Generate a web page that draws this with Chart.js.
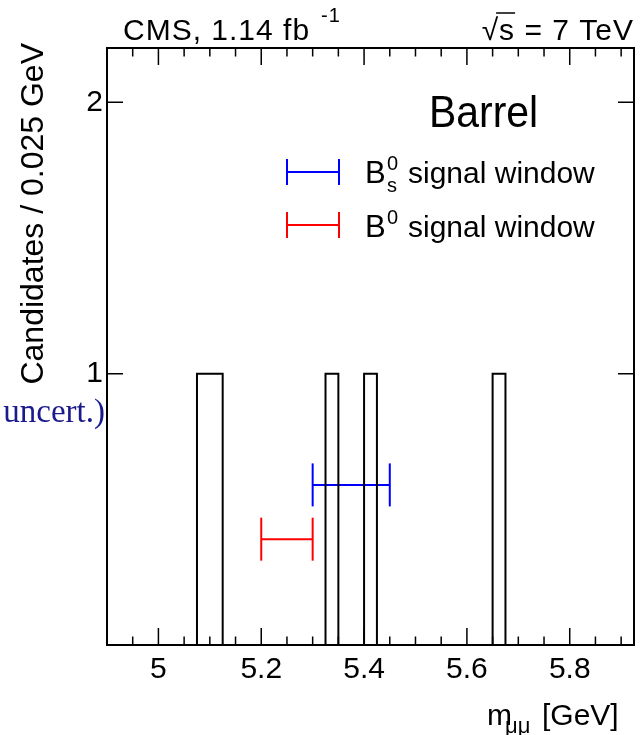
<!DOCTYPE html>
<html>
<head>
<meta charset="utf-8">
<script src="https://cdn.jsdelivr.net/npm/chart.js@4.4.1/dist/chart.umd.min.js"></script>
<style>
  body { margin: 0; background: #fff; }
  canvas { display: block; }
</style>
</head>
<body>
<canvas id="mass" width="642" height="735"></canvas>
<script>
// dimuon mass histogram, barrel, bins of 0.025 GeV
var binWidth = 0.025;
var binLowEdges = [5.075, 5.100, 5.325, 5.400, 5.650];
var binCounts = [1, 1, 1, 1, 1];

var xRange = [4.9, 5.925];
var yRange = [0, 2.2];
var xTickLabels = [5, 5.2, 5.4, 5.6, 5.8];
var yTickLabels = [1, 2];

var bsWindow = [5.30, 5.45];
var bsLevel = 0.59;
var b0Window = [5.20, 5.30];
var b0Level = 0.39;

var FONT = '"Liberation Sans", Arial, sans-serif';

// outline of the histogram as a stepped line
var histPoints = [{x: xRange[0], y: 0}];
binLowEdges.forEach(function (lo, i) {
    histPoints.push({x: lo, y: binCounts[i]});
    var hi = +(lo + binWidth).toFixed(3);
    if (binLowEdges[i + 1] !== hi) histPoints.push({x: hi, y: 0});
});
histPoints.push({x: xRange[1], y: 0});

var windowSet = function (range, level, color) {
    return {
        data: [{x: range[0], y: level}, {x: range[1], y: level}],
        showLine: true,
        borderColor: color,
        borderWidth: 2,
        pointStyle: 'line',
        rotation: 90,
        pointRadius: 21.5,
        pointBorderColor: color,
        pointBorderWidth: 2
    };
};

var decorations = {
    id: 'decorations',
    afterDraw: function (chart) {
        var ctx = chart.ctx;
        var a = chart.chartArea;
        var x = chart.scales.x, y = chart.scales.y;
        ctx.save();

        // stray caption from neighbouring figure
        ctx.font = '33px "Liberation Serif", "Times New Roman", serif';
        ctx.fillStyle = '#1a1a8e';
        ctx.textAlign = 'right';
        ctx.textBaseline = 'alphabetic';
        ctx.fillText('uncert.)', 105, 422);

        // frame
        ctx.strokeStyle = '#000';
        ctx.lineWidth = 2;
        ctx.strokeRect(a.left, a.top, a.right - a.left, a.bottom - a.top);

        // inward ticks
        ctx.lineWidth = 1.5;
        ctx.beginPath();
        for (var i = 0; ; i++) {
            var v = +(xRange[0] + 0.05 * i).toFixed(3);
            if (v > xRange[1]) break;
            var px = x.getPixelForValue(v);
            var major = Math.abs(v * 5 - Math.round(v * 5)) < 1e-6;
            var len = major ? 17 : 8.5;
            ctx.moveTo(px, a.bottom); ctx.lineTo(px, a.bottom - len);
            ctx.moveTo(px, a.top); ctx.lineTo(px, a.top + len);
        }
        yTickLabels.forEach(function (v) {
            var py = y.getPixelForValue(v);
            ctx.moveTo(a.left, py); ctx.lineTo(a.left + 16, py);
            ctx.moveTo(a.right, py); ctx.lineTo(a.right - 16, py);
        });
        ctx.stroke();

        ctx.fillStyle = '#000';
        ctx.textAlign = 'left';
        ctx.textBaseline = 'alphabetic';

        // header
        ctx.letterSpacing = '1px';
        ctx.font = '30px ' + FONT;
        ctx.fillText('CMS, 1.14 fb', 123, 40);
        ctx.font = '20px ' + FONT;
        ctx.fillText('-1', 321, 22);

        ctx.font = '30px ' + FONT;
        var energy = '\u221As = 7 TeV';
        var ex = 634 - ctx.measureText(energy).width;
        ctx.fillText(energy, ex, 40);
        var sx = ex + ctx.measureText('\u221A').width;
        var sw = ctx.measureText('s').width;
        ctx.lineWidth = 1.5;
        ctx.beginPath();
        ctx.moveTo(sx - 3, 13); ctx.lineTo(sx + sw, 13);
        ctx.stroke();
        ctx.letterSpacing = '0px';

        // region label, slightly condensed like the original
        ctx.save();
        ctx.translate(429, 127);
        ctx.scale(0.93, 1);
        ctx.font = '44px ' + FONT;
        ctx.fillText('Barrel', 0, 0);
        ctx.restore();

        // legend
        var legendRows = [
            {y: 172, color: '#0000ff', sub: 's', base: 183},
            {y: 225, color: '#ff0000', sub: '', base: 237}
        ];
        legendRows.forEach(function (r) {
            ctx.strokeStyle = r.color;
            ctx.lineWidth = 2;
            ctx.beginPath();
            ctx.moveTo(287, r.y); ctx.lineTo(339, r.y);
            ctx.moveTo(287, r.y - 13); ctx.lineTo(287, r.y + 13);
            ctx.moveTo(339, r.y - 13); ctx.lineTo(339, r.y + 13);
            ctx.stroke();
            ctx.fillStyle = '#000';
            ctx.font = '31px ' + FONT;
            ctx.fillText('B', 365, r.base);
            ctx.font = '20px ' + FONT;
            ctx.fillText('0', 387, r.base - 13);
            if (r.sub) ctx.fillText(r.sub, 387, r.base + 9);
            ctx.font = '30px ' + FONT;
            ctx.fillText('signal window', 408, r.base);
        });

        // x title
        ctx.font = '30px ' + FONT;
        ctx.fillText('m', 487, 725);
        ctx.font = '22px ' + FONT;
        ctx.fillText('\u03BC\u03BC', 505, 733);
        ctx.font = '30px ' + FONT;
        ctx.fillText('[GeV]', 542, 725);

        // y title
        ctx.save();
        ctx.translate(43, 43);
        ctx.rotate(-Math.PI / 2);
        ctx.textAlign = 'right';
        ctx.font = '32px ' + FONT;
        ctx.fillText('Candidates / 0.025 GeV', 0, 0);
        ctx.restore();

        ctx.restore();
    }
};

new Chart(document.getElementById('mass'), {
    type: 'scatter',
    data: {
        datasets: [
            {
                data: histPoints,
                showLine: true,
                stepped: true,
                borderColor: '#000',
                borderWidth: 2,
                pointRadius: 0
            },
            windowSet(bsWindow, bsLevel, '#0000ff'),
            windowSet(b0Window, b0Level, '#ff0000')
        ]
    },
    options: {
        responsive: false,
        animation: false,
        layout: { autoPadding: false, padding: { top: 48, right: 8, left: 0, bottom: 0 } },
        plugins: { legend: { display: false }, tooltip: { enabled: false } },
        scales: {
            x: {
                type: 'linear',
                min: xRange[0],
                max: xRange[1],
                grid: { display: false, drawTicks: false },
                border: { display: false },
                ticks: {
                    font: { family: FONT, size: 30 },
                    color: '#000',
                    padding: 7,
                    maxRotation: 0,
                    autoSkip: false,
                    callback: function (v) { return String(v); }
                },
                afterBuildTicks: function (s) {
                    s.ticks = xTickLabels.map(function (v) { return {value: v}; });
                },
                afterFit: function (s) {
                    s.height = 90;
                    s.paddingLeft = 0;
                    s.paddingRight = 0;
                }
            },
            y: {
                min: yRange[0],
                max: yRange[1],
                grid: { display: false, drawTicks: false },
                border: { display: false },
                ticks: {
                    font: { family: FONT, size: 30 },
                    color: '#000',
                    padding: 4,
                    callback: function (v) { return String(v); }
                },
                afterBuildTicks: function (s) {
                    s.ticks = yTickLabels.map(function (v) { return {value: v}; });
                },
                afterFit: function (s) {
                    s.width = 107;
                    s.paddingTop = 0;
                    s.paddingBottom = 0;
                }
            }
        }
    },
    plugins: [decorations]
});
</script>
</body>
</html>
